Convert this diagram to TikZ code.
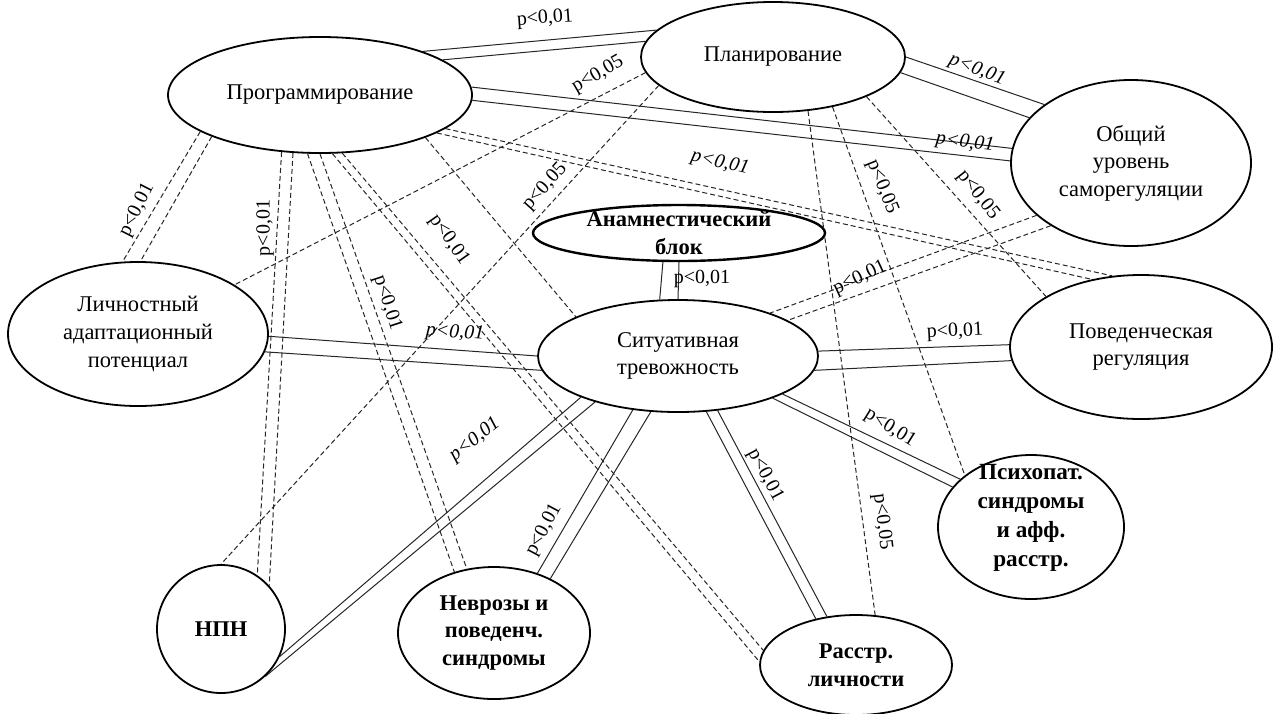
\documentclass[tikz,border=0pt]{standalone}
\usepackage{fontspec}
\setmainfont{Liberation Serif}
\usetikzlibrary{shapes.geometric,backgrounds}
\begin{document}
\begin{tikzpicture}[x=0.5pt,y=-0.5pt,
  ell/.style={draw, line width=0.9pt, ellipse, inner sep=0pt, fill=white},
  ntext/.style={align=center, inner sep=0pt, font=\fontsize{11.25}{13.8}\selectfont},
  btext/.style={align=center, inner sep=0pt, font=\fontsize{11.25}{13.8}\selectfont\bfseries},
  conn/.style={line width=0.5pt, draw=black!85},
  dconn/.style={conn, dash pattern=on 2.5pt off 1.5pt},
  lbl/.style={inner sep=0pt, font=\fontsize{10}{12}\selectfont},
  ilbl/.style={inner sep=0pt, font=\fontsize{10}{12}\selectfont\itshape}]
\useasboundingbox (0,0) rectangle (1277,713);

% nodes (ellipses)
\node[ell, minimum width=152pt, minimum height=58pt] (prog) at (320,95) {};
\node[ell, minimum width=132pt, minimum height=55pt] (plan) at (773,57) {};
\node[ell, minimum width=120pt, minimum height=83pt] (obsh) at (1131,163) {};
\node[ell, line width=1.2pt, minimum width=146pt, minimum height=28pt] (anam) at (679,233) {};
\node[ell, minimum width=130pt, minimum height=72pt] (lich) at (138,334) {};
\node[ell, minimum width=140pt, minimum height=56pt] (sit) at (678,356) {};
\node[ell, minimum width=131pt, minimum height=72pt] (pov) at (1141,347) {};
\node[ell, minimum width=64pt, minimum height=64pt] (npn) at (221,629) {};
\node[ell, minimum width=96pt, minimum height=66pt] (nevr) at (494,633) {};
\node[ell, minimum width=93pt, minimum height=72pt] (psih) at (1031,527) {};
\node[ell, minimum width=96pt, minimum height=50pt] (rass) at (856,665) {};

% texts
\node[ntext] (progT) at (prog) {Программирование};
\node[ntext] (planT) at (plan) {Планирование};
\node[ntext] (obshT) at (obsh) {Общий\\уровень\\саморегуляции};
\node[btext] (anamT) at (anam) {Анамнестический\\блок};
\node[ntext] (lichT) at (lich) {Личностный\\адаптационный\\потенциал};
\node[ntext] (sitT) at (sit) {Ситуативная\\тревожность};
\node[ntext] (povT) at (pov) {Поведенческая\\регуляция};
\node[btext] (npnT) at (npn) {НПН};
\node[btext] (nevrT) at (nevr) {Неврозы и\\поведенч.\\синдромы};
\node[btext, font=\fontsize{11.6}{14.6}\selectfont\bfseries] (psihT) at (1031,518) {Психопат.\\синдромы\\и афф.\\расстр.};
\node[btext] (rassT) at (rass) {Расстр.\\личности};

\begin{pgfonlayer}{background}
% solid double connectors
\draw[conn] (prog.23) -- (plan.167);  \draw[conn] (prog.16) -- (plan.173);
\draw[conn] (prog.3) -- (obsh.173);   \draw[conn] (prog.-2) -- (obsh.179);
\draw[conn] (plan.0) -- (obsh.146);   \draw[conn] (plan.-7) -- (obsh.156);
\draw[conn] (anam.241) -- (sit.108);  \draw[conn] (anam.270) -- (sit.90);
\draw[conn] (lich.-1) -- (sit.180);   \draw[conn] (lich.-8) -- (sit.186);
\draw[conn] (sit.2) -- (pov.179);     \draw[conn] (sit.-6) -- (pov.186);
\draw[conn] (sit.203) -- (npn.-25);   \draw[conn] (sit.209) -- (npn.-47);
\draw[conn] (sit.230) -- (nevr.54);   \draw[conn] (sit.244) -- (nevr.44);
\draw[conn] (sit.-63) -- (rass.131);  \draw[conn] (sit.-54) -- (rass.121);
\draw[conn] (sit.-20) -- (psih.146);  \draw[conn] (sit.-24) -- (psih.153);
% dashed double connectors
\draw[dconn] (prog.197) -- (lich.102); \draw[dconn] (prog.201) -- (lich.88);
\draw[dconn] (prog.236) -- (npn.56);   \draw[dconn] (prog.245) -- (npn.42);
\draw[dconn] (prog.258) -- (nevr.123); \draw[dconn] (prog.270) -- (nevr.113);
\draw[dconn] (prog.-78) -- (rass.178); \draw[dconn] (prog.-69) -- (rass.171);
\draw[dconn] (obsh.209) -- (sit.25);   \draw[dconn] (obsh.218) -- (sit.18);
\draw[dconn] (prog.-15) -- (pov.112);  \draw[dconn] (prog.-18) -- (pov.126);
% single dashed connectors
\draw[dconn] (prog.-22) -- (sit.159);
\draw[dconn] (plan.187) -- (lich.27);
\draw[dconn] (plan.194) -- (npn.90);
\draw[dconn] (plan.-57) -- (rass.69);
\draw[dconn] (plan.-40) -- (psih.142);
\draw[dconn] (plan.-23) -- (pov.152);
\end{pgfonlayer}

% labels
\node[lbl, rotate=4] (l1) at (545,19) {p<0,01};
\node[ilbl, rotate=-7] (l2) at (965,143) {p<0,01};
\node[ilbl, rotate=-21] (l3) at (977,70) {p<0,01};
\node[lbl] (l4) at (702,279) {p<0,01};
\node[ilbl, rotate=-4] (l5) at (455,333) {p<0,01};
\node[lbl, rotate=3] (l6) at (955,332) {p<0,01};
\node[ilbl, rotate=38] (l7) at (475,440) {p<0,01};
\node[lbl, rotate=62] (l8) at (544,530) {p<0,01};
\node[lbl, rotate=-62] (l9) at (765,475) {p<0,01};
\node[lbl, rotate=-32] (l10) at (890,428) {p<0,01};
\node[lbl, rotate=63] (l11) at (137,210) {p<0,01};
\node[lbl, rotate=90] (l12) at (265,228) {p<0,01};
\node[lbl, rotate=-72] (l13) at (387,303) {p<0,01};
\node[lbl, rotate=-55] (l14) at (449,240) {p<0,01};
\node[lbl, rotate=25] (l15) at (860,278) {p<0,01};
\node[ilbl, rotate=-13] (l16) at (720,163) {p<0,01};
\node[lbl, rotate=30] (l18) at (598,75) {p<0,05};
\node[lbl, rotate=48] (l19) at (545,187) {p<0,05};
\node[lbl, rotate=-83] (l20) at (882,522) {p<0,05};
\node[lbl, rotate=-68] (l21) at (882,187) {p<0,05};
\node[lbl, rotate=-52] (l22) at (978,195) {p<0,05};
\end{tikzpicture}
\end{document}
